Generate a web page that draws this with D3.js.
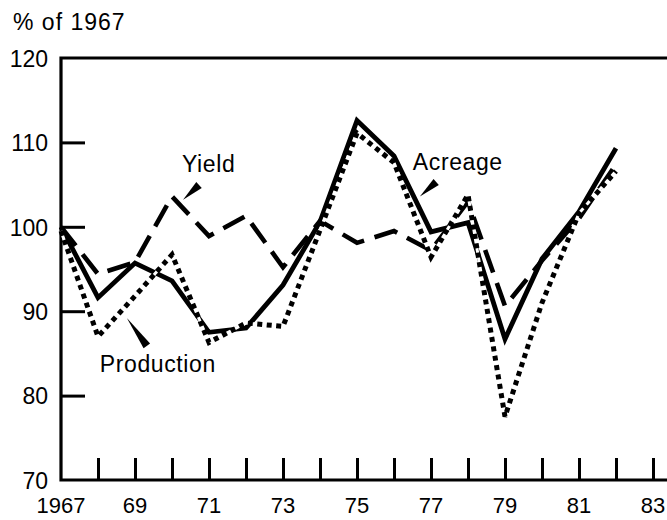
<!DOCTYPE html>
<html lang="en">
<head>
<meta charset="UTF-8">
<title>Acreage, yield and production, % of 1967</title>
<script src="https://d3js.org/d3.v7.min.js"></script>
<style>
  body { margin: 0; background: #fff; }
  svg text { font-family: "Liberation Sans", Arial, Helvetica, sans-serif; fill: #000; }
</style>
</head>
<body>
<svg id="chart" width="667" height="520"></svg>
<script>
// values, % of 1967
const years = d3.range(1967, 1983);
const acreage    = [100, 91.6, 95.7, 93.6, 87.5, 88.0, 93.1, 100.6, 112.6, 108.4, 99.4, 100.5, 86.7, 96.2, 101.8, 109.3];
const production = [99.5, 87.0, 91.8, 96.7, 86.3, 88.6, 88.2, 99.6, 111.1, 107.6, 96.4, 103.8, 77.5, 91.0, 101.6, 106.6];
const yieldPct   = [100, 94.4, 95.8, 103.6, 98.9, 101.3, 95.2, 100.7, 98.1, 99.5, 97.2, 103.0, 90.6, 96.0, 101.0, 107.4];

const yTicks = [70, 80, 90, 100, 110, 120];
const xTicks = d3.range(1968, 1984);
const xLabels = [1967, 1969, 1971, 1973, 1975, 1977, 1979, 1981, 1983];

// label text and pointer wedge, in data units
const notes = [
  { text: "Yield",      x: 1970.27, y: 106.5, from: [1970.73, 104.95], to: [1970.30, 103.2] },
  { text: "Acreage",    x: 1976.51, y: 106.7, from: [1977.14, 105.3],  to: [1976.70, 103.6] },
  { text: "Production", x: 1968.05, y: 82.8,  from: [1969.32, 85.9],   to: [1968.78, 89.2] }
];

const svg = d3.select("#chart");
const fontSize = 23;

const x = d3.scaleLinear().domain([1967, 1983]).range([61, 653]);
const y = d3.scaleLinear().domain([70, 120]).range([480, 58]);
const xEnd = 1983.4;

// frame: left, top, bottom
svg.append("path")
  .attr("d", d3.line()([[x(xEnd), y(120)], [x(1967), y(120)], [x(1967), y(70)], [x(xEnd), y(70)]]))
  .attr("fill", "none").attr("stroke", "#000").attr("stroke-width", 3.2);

// y axis ticks (inward) and labels
const yAxis = svg.append("g")
  .attr("transform", `translate(${x(1967)},0)`)
  .call(d3.axisLeft(y).tickValues(yTicks).tickSize(-24).tickPadding(13).tickSizeOuter(0));
yAxis.select(".domain").remove();
yAxis.selectAll(".tick line").attr("stroke", "#000").attr("stroke-width", 3)
  .attr("display", d => (d === 70 || d === 120) ? "none" : null);
yAxis.selectAll(".tick text").attr("font-size", fontSize).attr("font-family", null).attr("dy", "0.36em");

// x axis ticks (upward)
const xAxis = svg.append("g")
  .attr("transform", `translate(0,${y(70)})`)
  .call(d3.axisBottom(x).tickValues(xTicks).tickSize(-22).tickFormat("").tickSizeOuter(0));
xAxis.select(".domain").remove();
xAxis.selectAll(".tick line").attr("stroke", "#000").attr("stroke-width", 3);

svg.append("g").selectAll("text")
  .data(xLabels)
  .join("text")
  .attr("x", d => x(d))
  .attr("y", 513)
  .attr("text-anchor", "middle")
  .attr("font-size", 22)
  .text(d => d === 1967 ? "1967" : String(d).slice(2));

// unit label
svg.append("text")
  .attr("x", 13).attr("y", 30)
  .attr("font-size", fontSize)
  .attr("letter-spacing", 1)
  .text("% of 1967");

const line = d3.line().x((d, i) => x(years[i])).y(d => y(d));

// yield: long dashes
svg.append("path")
  .datum(yieldPct)
  .attr("d", line)
  .attr("fill", "none").attr("stroke", "#000")
  .attr("stroke-width", 4.6)
  .attr("stroke-dasharray", "24,11")
  .attr("stroke-linejoin", "miter");

// acreage: solid
svg.append("path")
  .datum(acreage)
  .attr("d", line)
  .attr("fill", "none").attr("stroke", "#000")
  .attr("stroke-width", 4.8)
  .attr("stroke-linejoin", "miter");

// production: square dots over a white band
svg.append("path")
  .datum(production)
  .attr("d", line)
  .attr("fill", "none").attr("stroke", "#fff")
  .attr("stroke-width", 3)
  .attr("stroke-linejoin", "miter");
svg.append("path")
  .datum(production)
  .attr("d", line)
  .attr("fill", "none").attr("stroke", "#000")
  .attr("stroke-width", 5)
  .attr("stroke-dasharray", "5,4.5")
  .attr("stroke-linejoin", "miter");

// series labels with wedge pointers
const noteG = svg.append("g");
noteG.selectAll("text")
  .data(notes)
  .join("text")
  .attr("x", d => x(d.x))
  .attr("y", d => y(d.y))
  .attr("font-size", fontSize)
  .attr("letter-spacing", 0.6)
  .text(d => d.text);

noteG.selectAll("path")
  .data(notes)
  .join("path")
  .attr("d", d => {
    const bx = x(d.from[0]), by = y(d.from[1]);
    const tx = x(d.to[0]), ty = y(d.to[1]);
    const len = Math.hypot(tx - bx, ty - by);
    const nx = -(ty - by) / len * 4, ny = (tx - bx) / len * 4;
    return d3.line()([[bx + nx, by + ny], [bx - nx, by - ny], [tx, ty]]) + "Z";
  })
  .attr("fill", "#000");
</script>
</body>
</html>
